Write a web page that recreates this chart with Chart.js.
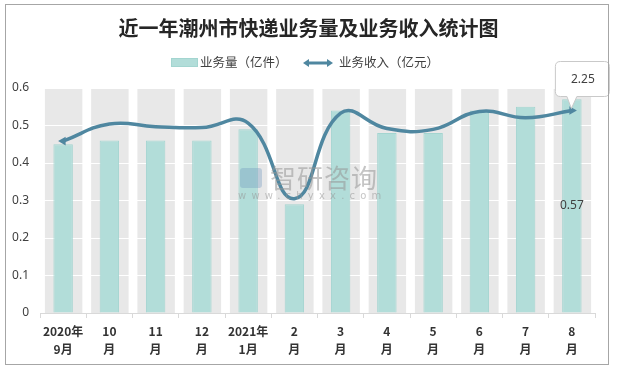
<!DOCTYPE html>
<html>
<head>
<meta charset="utf-8">
<script src="https://cdn.jsdelivr.net/npm/chart.js@4.4.1/dist/chart.umd.min.js"></script>
<style>
  html,body{margin:0;padding:0;background:#fff;}
  #wrap{position:relative;width:617px;height:370px;overflow:hidden;font-family:"Noto Sans CJK SC","Noto Sans",sans-serif;}
  #frame{position:absolute;left:5px;top:4px;width:604px;height:361px;border:1px solid #a6a6a6;box-sizing:border-box;pointer-events:none;}
  #title{position:absolute;left:0;width:617px;top:15px;text-align:center;font-size:20px;line-height:26px;font-weight:bold;color:#262626;}
  .leg{position:absolute;top:53px;font-size:12.5px;line-height:18px;color:#404040;white-space:nowrap;}
  #wm1{position:absolute;left:270px;top:162px;font-size:26px;line-height:30px;color:rgba(150,150,150,0.55);letter-spacing:1px;}
  #wm2{position:absolute;left:238px;top:190px;font-size:10px;line-height:12px;color:rgba(150,150,150,0.55);letter-spacing:5.2px;font-family:"DejaVu Sans",sans-serif;}
  #wmlogo{position:absolute;left:240px;top:168px;width:22px;height:20px;border-radius:3px;background:rgba(110,150,190,0.35);}
  canvas{position:absolute;left:0;top:0;}
</style>
</head>
<body>
<div id="wrap">
  <canvas id="c" width="617" height="370"></canvas>
  <div id="title">近一年潮州市快递业务量及业务收入统计图</div>
  <div class="leg" style="left:171px;"><span style="display:inline-block;width:27px;height:9px;background:#b2ddd9;border:1px solid #a3d5d0;box-sizing:border-box;vertical-align:middle;margin-right:2px;position:relative;top:-1px;"></span><span id="l1"></span></div>
  <div class="leg" style="left:303px;"><svg width="30" height="10" style="vertical-align:middle;margin-right:6px;position:relative;top:-1px;"><line x1="4" y1="5" x2="26" y2="5" stroke="#4f87a0" stroke-width="3"/><polygon points="0,5 6,1 6,9" fill="#4f87a0"/><polygon points="30,5 24,1 24,9" fill="#4f87a0"/></svg><span id="l2"></span></div>
  <div id="wmlogo"></div>
  <div id="wm1">智研咨询</div>
  <div id="wm2">www.chyxx.com</div>
  <div id="frame"></div>
</div>
<script>
// ---- data ----
const categories = [['2020年','9月'],['10','月'],['11','月'],['12','月'],['2021年','1月'],['2','月'],['3','月'],['4','月'],['5','月'],['6','月'],['7','月'],['8','月']];
const volumeLabel = '业务量（亿件）';
const revenueLabel = '业务收入（亿元）';
const volume = [0.45, 0.46, 0.46, 0.46, 0.49, 0.29, 0.54, 0.48, 0.48, 0.54, 0.55, 0.57];
const revenue = [1.91, 2.10, 2.07, 2.06, 2.11, 1.27, 2.22, 2.05, 2.04, 2.24, 2.17, 2.25];
const yTickMax = 0.6;
const yTickStep = 0.1;
const revenueAxisMax = 2.5;

document.getElementById('l1').textContent = volumeLabel;
document.getElementById('l2').textContent = revenueLabel;

const n = revenue.length;
const ptStyle = revenue.map((v,i)=> (i===0||i===n-1) ? 'triangle' : 'circle');
const ptRadius = revenue.map((v,i)=> (i===0||i===n-1) ? 5 : 0);
const ptRot = revenue.map((v,i)=> i===0 ? -90 : (i===n-1 ? 90 : 0));

const bgColumns = {
  id:'bgColumns',
  beforeDraw(chart){
    const {ctx, chartArea, scales} = chart;
    const xs = scales.x;
    const ys = scales.y;
    const top = ys.getPixelForValue(yTickMax);
    const bottom = ys.getPixelForValue(0);
    const cw = (chartArea.right - chartArea.left) / categories.length;
    ctx.save();
    ctx.fillStyle = '#e8e8e8';
    for (let i=0;i<categories.length;i++){
      const cx = xs.getPixelForValue(i);
      const w = cw*0.81;
      ctx.fillRect(cx - w/2 + 0.5, top, w, bottom - top);
    }
    ctx.restore();
  }
};

const labelsPlugin = {
  id:'labelsPlugin',
  afterDatasetsDraw(chart){
    const {ctx} = chart;
    const barMeta = chart.getDatasetMeta(0);
    const lineMeta = chart.getDatasetMeta(1);
    const last = n-1;
    // bar label
    const bar = barMeta.data[last];
    ctx.save();
    ctx.font = '12px "Noto Sans","DejaVu Sans",sans-serif';
    ctx.fillStyle = '#404040';
    ctx.textAlign = 'center';
    ctx.textBaseline = 'middle';
    ctx.fillText(volume[last].toFixed(2), bar.x, (bar.y + bar.base)/2);
    // callout for line
    const p = lineMeta.data[last];
    const x = p.x, y = p.y;
    const L = x - 16.5, R = x + 37.5, T = y - 49, B = y - 14;
    const r = 5;
    ctx.beginPath();
    ctx.moveTo(L + r, T);
    ctx.lineTo(R - r, T);
    ctx.quadraticCurveTo(R, T, R, T + r);
    ctx.lineTo(R, B - r);
    ctx.quadraticCurveTo(R, B, R - r, B);
    ctx.lineTo(x + 5, B);
    ctx.lineTo(x - 0.5, y - 2);
    ctx.lineTo(x - 5, B);
    ctx.lineTo(L + r, B);
    ctx.quadraticCurveTo(L, B, L, B - r);
    ctx.lineTo(L, T + r);
    ctx.quadraticCurveTo(L, T, L + r, T);
    ctx.closePath();
    ctx.fillStyle = '#ffffff';
    ctx.fill();
    ctx.strokeStyle = '#c9c9c9';
    ctx.lineWidth = 1;
    ctx.stroke();
    ctx.fillStyle = '#404040';
    ctx.fillText(revenue[last].toFixed(2), (L+R)/2 + 0.5, (T+B)/2 + 0.5);
    ctx.restore();
  }
};

new Chart(document.getElementById('c'), {
  data: {
    labels: categories,
    datasets: [
      {
        type:'bar',
        label: volumeLabel,
        data: volume,
        yAxisID:'y',
        backgroundColor:'#b2ddd9',
        borderColor:'#a3d5d0',
        borderWidth:1,
        categoryPercentage:1.0,
        barPercentage:0.42,
        order:2
      },
      {
        type:'line',
        label: revenueLabel,
        data: revenue,
        yAxisID:'y1',
        borderColor:'#4f87a0',
        backgroundColor:'#4f87a0',
        borderWidth:3.5,
        tension:0.45,
        pointStyle: ptStyle,
        pointRadius: ptRadius,
        pointRotation: ptRot,
        pointBorderWidth:0,
        fill:false,
        order:1
      }
    ]
  },
  options:{
    responsive:false,
    animation:false,
    devicePixelRatio:1,
    layout:{padding:{left:0,right:22,top:88,bottom:0}},
    plugins:{legend:{display:false},title:{display:false},tooltip:{enabled:false}},
    scales:{
      x:{
        offset:true,
        grid:{display:true,drawOnChartArea:false,offset:true,tickLength:5,color:'#d9d9d9'},
        border:{display:true,color:'#d9d9d9'},
        ticks:{
          color:'#333333',
          padding:4,
          maxRotation:0,
          autoSkip:false,
          font:{family:'"Noto Sans CJK SC","Noto Sans",sans-serif',size:12,weight:'bold',lineHeight:1.5}
        },
        afterFit(s){ s.height = 57; }
      },
      y:{
        min:0,max:yTickMax,
        ticks:{stepSize:yTickStep,padding:11,color:'#404040',font:{family:'"Noto Sans","DejaVu Sans",sans-serif',size:12},
          callback:(v)=> v===0 ? '0' : Number(v).toFixed(1)},
        grid:{color:'#ffffff',lineWidth:1,drawTicks:false},
        border:{display:false},
        afterFit(s){ s.width = 40; }
      },
      y1:{
        min:0,max:revenueAxisMax,display:false,position:'right'
      }
    }
  },
  plugins:[bgColumns, labelsPlugin]
});
</script>
</body>
</html>
